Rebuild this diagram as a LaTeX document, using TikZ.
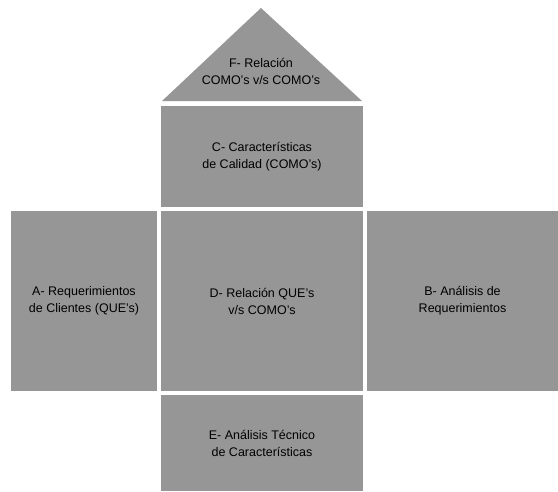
\documentclass[tikz,border=0pt]{standalone}
\usepackage{fontspec}
\setmainfont{Liberation Sans}
\begin{document}
\definecolor{panel}{RGB}{150,150,150}
\begin{tikzpicture}[x=1pt,y=-1pt,
  panelbox/.style={fill=panel, inner sep=0pt, outer sep=0pt, align=center,
    font=\fontsize{12.5}{17}\selectfont},
  label/.style={inner sep=0pt, align=center, font=\fontsize{12.5}{17}\selectfont}]
  \useasboundingbox[fill=white] (0,0) rectangle (558,491);
  % roof
  \fill[panel] (162,101) -- (261,8) -- (362,101) -- cycle;
  \node[label] (F) at (261,71) {F- Relación\\COMO's v/s COMO's};
  % upper storey
  \node[panelbox, minimum width=202, minimum height=101] (C) at (262,156.5)
    {C- Características\\de Calidad (COMO's)};
  % middle row
  \node[panelbox, minimum width=146, minimum height=180] (A) at (84,301)
    {A- Requerimientos\\de Clientes (QUE's)};
  \node[panelbox, minimum width=202, minimum height=180] (D) at (262,301)
    {D- Relación QUE's\\v/s COMO's};
  \node[panelbox, minimum width=191, minimum height=180] (B) at (462.5,301)
    {B- Análisis de\\Requerimientos};
  % base
  \node[panelbox, minimum width=202, minimum height=96] (E) at (262,443)
    {E- Análisis Técnico\\de Características};
\end{tikzpicture}
\end{document}
